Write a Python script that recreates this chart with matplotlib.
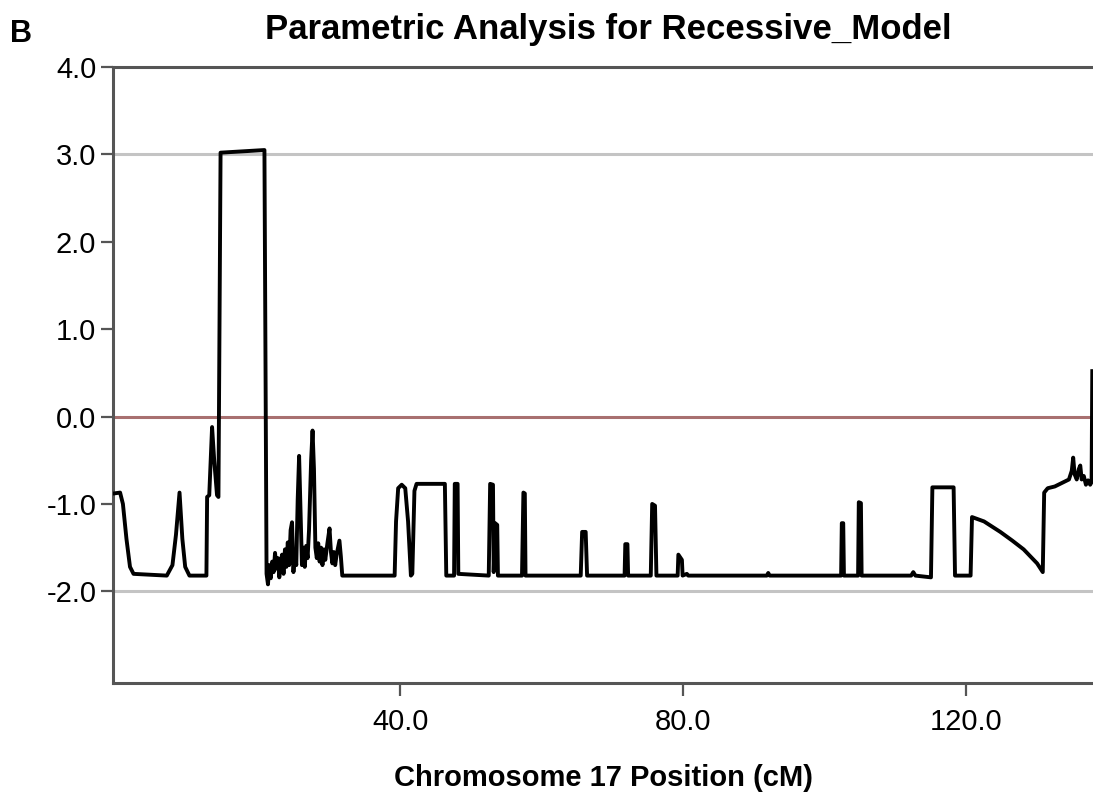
import matplotlib
matplotlib.use("Agg")
import matplotlib.pyplot as plt

plt.rcParams['font.family'] = ['Liberation Sans', 'DejaVu Sans']
plt.rcParams['axes.unicode_minus'] = False

# chromosome 17 position (cM) and LOD score
pos_cm = [
    -0.5, 0.4, 0.8, 1.3, 1.8, 2.3, 7.0, 7.8, 8.3, 8.8, 9.2, 9.6, 10.2, 12.6, 12.7,
    13.0, 13.4, 13.7, 14.1, 14.3, 14.6, 20.8, 21.1,
    21.3, 21.5, 21.7, 21.9, 22.1, 22.3, 22.5, 22.7, 22.9, 23.1, 23.3, 23.5, 23.7,
    23.9, 24.1, 24.3, 24.5, 24.7, 24.9, 25.1, 25.3, 25.5, 25.7, 25.9, 26.1, 26.3,
    26.5, 26.7, 26.9, 27.1, 27.4, 27.6, 27.8, 28.0, 28.2, 28.4, 28.6, 28.8, 29.0,
    29.2, 29.4, 29.7, 30.0, 30.2, 30.4, 30.6, 30.8, 31.0, 31.2, 31.4, 31.6, 31.8,
    32.0, 39.2, 39.4, 39.7, 40.2, 40.7, 41.1, 41.5, 41.7, 42.0, 42.3, 46.3, 46.5,
    47.6, 47.7, 48.1, 48.2, 52.5, 52.7, 53.1, 53.2, 53.4, 53.7, 53.8, 57.2, 57.4,
    57.6, 57.7, 65.5, 65.7, 66.2, 66.4, 71.7, 71.8, 72.1, 72.2, 75.4, 75.6, 76.0,
    76.2, 79.2, 79.3, 79.8, 79.9, 80.5, 80.7, 91.8, 92.0, 92.2, 102.3, 102.4,
    102.6, 102.7, 104.7, 104.8, 105.1, 105.2, 112.2, 112.5, 112.8, 115.0, 115.2,
    118.2, 118.4, 120.6, 120.8, 122.5, 124.8, 126.5, 128.1, 129.3, 130.0, 130.8,
    131.0, 131.5, 132.5, 133.5, 134.5, 134.9, 135.1, 135.3, 135.6, 135.9, 136.1,
    136.3, 136.6, 136.9, 137.2, 137.5, 137.7, 137.8,
]
lod = [
    -0.88, -0.87, -1.0, -1.4, -1.72, -1.8, -1.82, -1.7, -1.35, -0.87, -1.4, -1.72,
    -1.82, -1.82, -0.92, -0.9, -0.12, -0.5, -0.9, -0.92, 3.02, 3.05, -1.8,
    -1.92, -1.70, -1.85, -1.66, -1.78, -1.56, -1.74, -1.62, -1.84, -1.66, -1.58,
    -1.80, -1.52, -1.72, -1.44, -1.70, -1.30, -1.21, -1.78, -1.55, -1.70, -0.95,
    -0.45, -1.10, -1.70, -1.50, -1.72, -1.48, -1.62, -1.30, -0.5, -0.16, -0.6,
    -1.5, -1.62, -1.45, -1.66, -1.50, -1.70, -1.52, -1.64, -1.45, -1.28, -1.55,
    -1.68, -1.55, -1.70, -1.58, -1.50, -1.42, -1.60, -1.82,
    -1.82, -1.82, -1.2, -0.82, -0.78, -0.82, -1.2, -1.82, -1.8, -0.85, -0.77,
    -0.77, -1.82, -1.82, -0.77, -0.77, -1.80, -1.82, -0.77, -0.78, -1.78, -1.22,
    -1.24, -1.82, -1.82, -0.87, -0.88, -1.82, -1.82, -1.32, -1.32, -1.82, -1.82,
    -1.46, -1.46, -1.82, -1.82, -1.0, -1.02, -1.82, -1.82, -1.58, -1.64, -1.82,
    -1.80, -1.82, -1.82, -1.79, -1.82, -1.82, -1.22, -1.22, -1.82, -1.82, -0.98,
    -0.99, -1.82, -1.82, -1.78, -1.82, -1.84, -0.81, -0.81, -1.82, -1.82, -1.15,
    -1.2, -1.32, -1.42, -1.52, -1.62, -1.68, -1.78, -0.87, -0.82, -0.8, -0.76,
    -0.72, -0.62, -0.47, -0.66, -0.72, -0.60, -0.56, -0.72, -0.68, -0.78, -0.73,
    -0.78, -0.75, 0.52,
]
yticks = [4.0, 3.0, 2.0, 1.0, 0.0, -1.0, -2.0]
xticks = [40.0, 80.0, 120.0]

fig = plt.figure(figsize=(10.93, 7.98), dpi=100)
ax = fig.add_axes([0.1034, 0.144, 0.8966, 0.772])

ax.axhline(3.0, color='#c4c4c4', lw=2.2, zorder=1)
ax.axhline(-2.0, color='#c4c4c4', lw=2.2, zorder=1)
ax.axhline(0.0, color='#a87070', lw=2.2, zorder=1)
ax.plot(pos_cm, lod, color='black', lw=2.8, zorder=3)

ax.set_xlim(-0.6, 137.9)
ax.set_ylim(-3.05, 4.0)
ax.set_yticks(yticks)
ax.set_yticklabels(['%.1f' % v for v in yticks], fontsize=21)
ax.set_xticks(xticks)
ax.set_xticklabels(['%.1f' % v for v in xticks], fontsize=21)
ax.tick_params(axis='both', length=9, width=1.6, color='#555555')
ax.tick_params(axis='x', pad=9)
ax.tick_params(axis='y', pad=3)

for side in ['left', 'bottom', 'top']:
    ax.spines[side].set_color('#555555')
    ax.spines[side].set_linewidth(2.2)
ax.spines['right'].set_visible(False)

ax.set_title('Parametric Analysis for Recessive_Model', fontsize=25,
             fontweight='bold', pad=20, x=0.505)
ax.set_xlabel('Chromosome 17 Position (cM)', fontsize=21, fontweight='bold',
              labelpad=20)
fig.text(0.009, 0.958, 'B', fontsize=22, fontweight='bold', va='center')

fig.savefig('out.png', dpi=100)
